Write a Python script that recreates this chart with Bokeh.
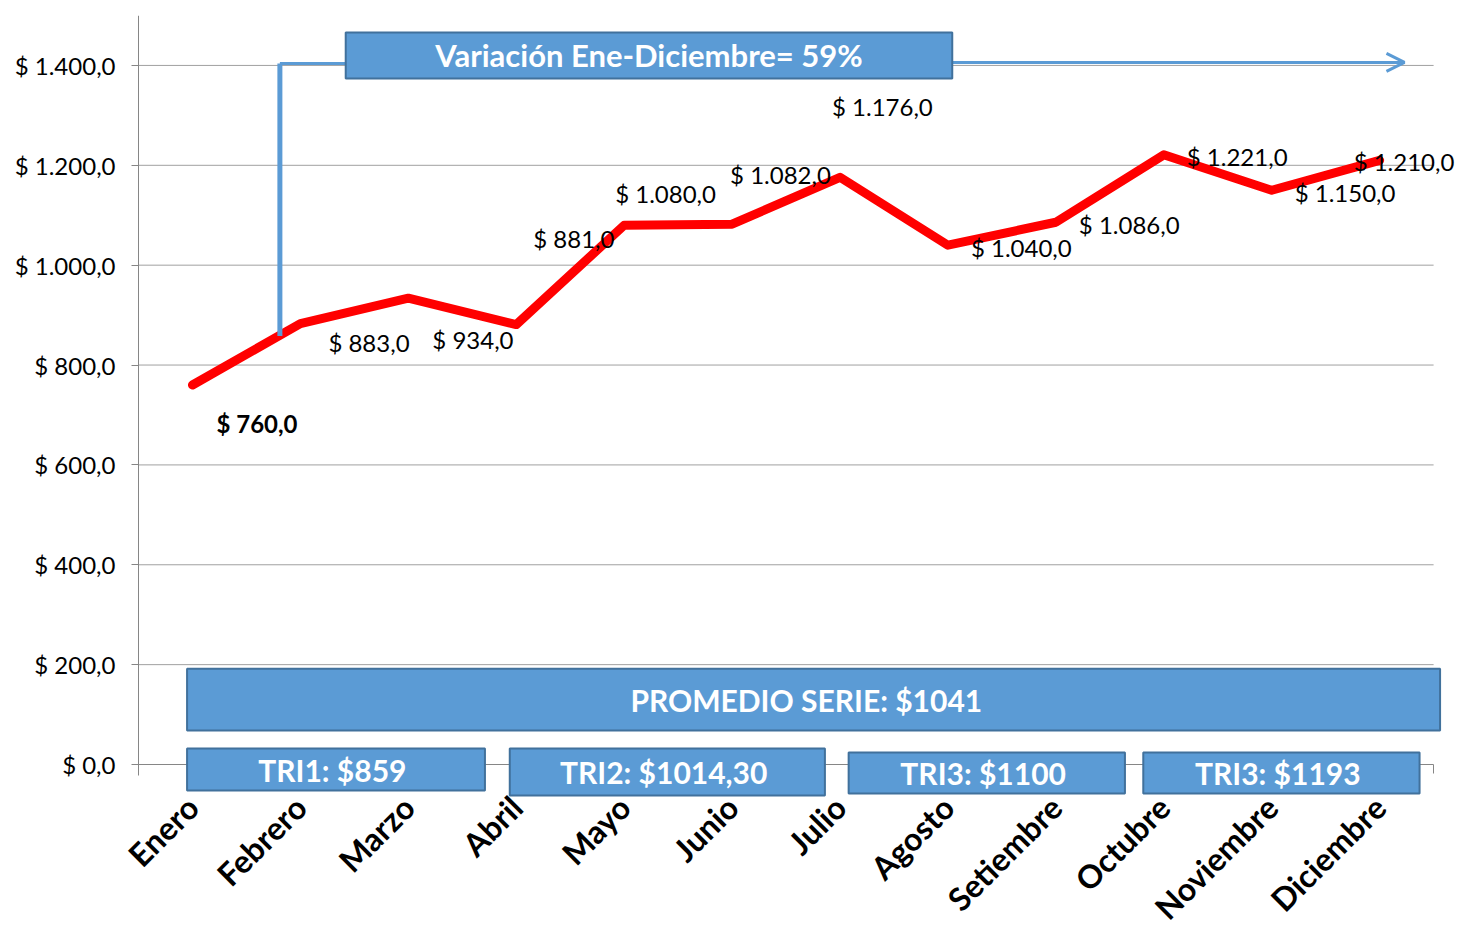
import math
from bokeh.plotting import figure
from bokeh.models import (Range1d, FixedTicker, ColumnDataSource, LabelSet, Label,
                          BoxAnnotation, Arrow, OpenHead)
from bokeh.core.properties import value
from bokeh.embed import file_html
from bokeh.resources import INLINE

# ---------------- data ----------------
months = ["Enero", "Febrero", "Marzo", "Abril", "Mayo", "Junio", "Julio",
          "Agosto", "Setiembre", "Octubre", "Noviembre", "Diciembre"]
values = [760, 883, 934, 881, 1080, 1082, 1176, 1040, 1086, 1221, 1150, 1210]
value_labels = ["$ 760,0", "$ 883,0", "$ 934,0", "$ 881,0", "$ 1.080,0", "$ 1.082,0",
                "$ 1.176,0", "$ 1.040,0", "$ 1.086,0", "$ 1.221,0", "$ 1.150,0", "$ 1.210,0"]
y_ticks = [0, 200, 400, 600, 800, 1000, 1200, 1400]
y_tick_labels = ["$ 0,0", "$ 200,0", "$ 400,0", "$ 600,0", "$ 800,0",
                 "$ 1.000,0", "$ 1.200,0", "$ 1.400,0"]
title_text = "Variación Ene-Diciembre= 59%"
promedio_text = "PROMEDIO  SERIE:  $1041"
tri_texts = ["TRI1:  $859", "TRI2:  $1014,30", "TRI3:  $1100", "TRI3:  $1193"]

# ---------------- styling / placement ----------------
FONT = "Lato"
BLUE = "#5B9BD5"
BLUE_EDGE = "#41719C"
AXIS = "#868686"
label_dx = [24, 28, 24, 17, -9, -2, -8, 23, 23, 23, 23, -26]
label_dy = [-38, -19, -41, 86, 32, 50, 71, -2, -2, -2, -2, -1]

n = len(months)
xs = [i + 0.5 for i in range(n)]

# The frame covers the whole canvas; both axes are pinned at 0 so that
# tick labels and the overlapping annotation boxes are never clipped.
p = figure(width=1459, height=927, x_range=Range1d(-1.2787, 12.24),
           y_range=Range1d(-326.4, 1500),
           output_backend="svg", toolbar_location=None,
           min_border_left=0, min_border_right=0, min_border_top=15, min_border_bottom=0)
p.outline_line_color = None

# y axis (sits on x = 0)
p.yaxis.fixed_location = 0
p.yaxis.ticker = FixedTicker(ticks=y_ticks)
p.yaxis.bounds = (-22, 1500)
p.yaxis.major_label_overrides = {t: l for t, l in zip(y_ticks, y_tick_labels)}
p.yaxis.major_label_text_font = FONT
p.yaxis.major_label_text_font_size = "24px"
p.yaxis.major_label_text_color = "black"
p.yaxis.axis_line_color = AXIS
p.yaxis.major_tick_line_color = AXIS
p.yaxis.major_tick_out = 7
p.yaxis.major_tick_in = 0
p.yaxis.minor_tick_line_color = None
p.yaxis.major_label_standoff = 16

# x axis (sits on y = 0)
p.xaxis.fixed_location = 0
p.xaxis.bounds = (0, n)
p.xaxis.ticker = FixedTicker(ticks=xs, minor_ticks=list(range(n + 1)))
p.xaxis.major_label_overrides = {x: m for x, m in zip(xs, months)}
p.xaxis.major_label_orientation = math.pi / 4
p.xaxis.major_label_text_font = FONT
p.xaxis.major_label_text_font_size = "32px"
p.xaxis.major_label_text_font_style = "bold"
p.xaxis.major_label_text_color = "black"
p.xaxis.axis_line_color = AXIS
p.xaxis.major_tick_line_color = None
p.xaxis.minor_tick_line_color = AXIS
p.xaxis.minor_tick_out = 9
p.xaxis.minor_tick_in = 0
p.xaxis.major_label_standoff = 28

# horizontal gridlines limited to the category span
p.xgrid.visible = False
p.ygrid.visible = False
grid_y = y_ticks[1:]
p.segment(x0=[0] * len(grid_y), x1=[n] * len(grid_y), y0=grid_y, y1=grid_y,
          line_color="#A0A0A0", line_width=1)

# main line
p.line(xs, values, line_color="#FF0000", line_width=9, line_join="round", line_cap="round")

# data labels
src = ColumnDataSource(dict(x=xs, y=values, text=value_labels, dx=label_dx, dy=label_dy,
                            style=["bold"] + ["normal"] * (n - 1)))
p.add_layout(LabelSet(x="x", y="y", text="text", source=src, x_offset="dx", y_offset="dy",
                      text_font=value(FONT), text_font_size="24px", text_font_style="style",
                      text_align="left", text_baseline="middle", text_color="black"))

# bracket + arrow for variation
p.line([1.31, 1.31], [858, 1404], line_color=BLUE, line_width=5)
p.line([1.31, 1.92], [1404, 1404], line_color=BLUE, line_width=3)
p.add_layout(Arrow(end=OpenHead(size=18, line_color=BLUE, line_width=3),
                   x_start=7.54, y_start=1406, x_end=11.73, y_end=1406,
                   line_color=BLUE, line_width=3))

def box(l, r, b, t, text, size):
    p.add_layout(BoxAnnotation(left=l, right=r, bottom=b, top=t, fill_color=BLUE,
                               fill_alpha=1.0, line_color=BLUE_EDGE, line_width=2,
                               line_alpha=1.0))
    p.add_layout(Label(x=(l + r) / 2, y=(b + t) / 2, text=text, text_color="white",
                       text_font=FONT, text_font_size=size, text_font_style="bold",
                       text_align="center", text_baseline="middle"))

box(1.92, 7.54, 1374, 1466, title_text, "31px")
box(0.45, 12.06, 68, 192, promedio_text, "30px")
box(0.45, 3.21, -52, 32, tri_texts[0], "30px")
box(3.44, 6.36, -62, 32, tri_texts[1], "30px")
box(6.58, 9.14, -58, 24, tri_texts[2], "30px")
box(9.31, 11.87, -58, 24, tri_texts[3], "30px")

open("out.html", "w").write(file_html(p, INLINE))
